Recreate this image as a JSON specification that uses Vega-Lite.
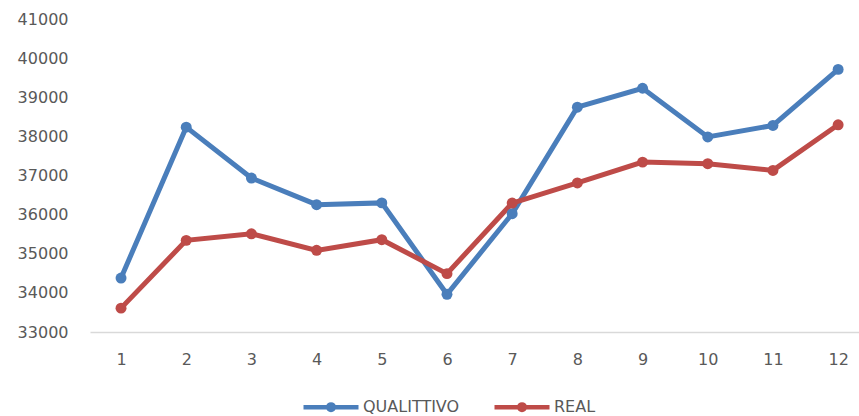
{
  "$schema": "https://vega.github.io/schema/vega-lite/v6.json",
  "width": 769,
  "height": 313,
  "autosize": "none",
  "padding": {"left": 90, "top": 19, "right": 0, "bottom": 84},
  "background": "white",
  "config": {"view": {"stroke": null}, "font": "DejaVu Sans"},
  "data": {"values": [
    {"mese": 1, "serie": "QUALITTIVO", "valore": 34380},
    {"mese": 2, "serie": "QUALITTIVO", "valore": 38236},
    {"mese": 3, "serie": "QUALITTIVO", "valore": 36934},
    {"mese": 4, "serie": "QUALITTIVO", "valore": 36254},
    {"mese": 5, "serie": "QUALITTIVO", "valore": 36300},
    {"mese": 6, "serie": "QUALITTIVO", "valore": 33963},
    {"mese": 7, "serie": "QUALITTIVO", "valore": 36024},
    {"mese": 8, "serie": "QUALITTIVO", "valore": 38747},
    {"mese": 9, "serie": "QUALITTIVO", "valore": 39230},
    {"mese": 10, "serie": "QUALITTIVO", "valore": 37985},
    {"mese": 11, "serie": "QUALITTIVO", "valore": 38280},
    {"mese": 12, "serie": "QUALITTIVO", "valore": 39712},
    {"mese": 1, "serie": "REAL", "valore": 33610},
    {"mese": 2, "serie": "REAL", "valore": 35342},
    {"mese": 3, "serie": "REAL", "valore": 35510},
    {"mese": 4, "serie": "REAL", "valore": 35087},
    {"mese": 5, "serie": "REAL", "valore": 35360},
    {"mese": 6, "serie": "REAL", "valore": 34492},
    {"mese": 7, "serie": "REAL", "valore": 36295},
    {"mese": 8, "serie": "REAL", "valore": 36810},
    {"mese": 9, "serie": "REAL", "valore": 37342},
    {"mese": 10, "serie": "REAL", "valore": 37301},
    {"mese": 11, "serie": "REAL", "valore": 37130},
    {"mese": 12, "serie": "REAL", "valore": 38297}
  ]},
  "mark": {"type": "line", "strokeWidth": 5, "point": {"filled": true, "size": 120, "opacity": 1}},
  "encoding": {
    "x": {
      "field": "mese", "type": "quantitative",
      "scale": {"domain": [0.524, 12.32], "nice": false, "zero": false},
      "axis": {
        "title": null, "values": [1,2,3,4,5,6,7,8,9,10,11,12], "format": "d",
        "grid": false, "ticks": false, "domainColor": "#d9d9d9", "domainWidth": 1.5,
        "labelFontSize": 16, "labelColor": "#595959", "labelPadding": 19, "labelFont": "DejaVu Sans"
      }
    },
    "y": {
      "field": "valore", "type": "quantitative",
      "scale": {"domain": [33000, 41000], "nice": false, "zero": false},
      "axis": {
        "title": null, "values": [33000,34000,35000,36000,37000,38000,39000,40000,41000], "format": "d",
        "grid": false, "ticks": false, "domain": false,
        "labelFontSize": 16, "labelColor": "#595959", "labelPadding": 22, "labelFont": "DejaVu Sans"
      }
    },
    "color": {
      "field": "serie", "type": "nominal",
      "scale": {"domain": ["QUALITTIVO", "REAL"], "range": ["#4A7EBB", "#BE4B48"]},
      "legend": {
        "title": null, "orient": "none", "direction": "horizontal",
        "legendX": 211, "legendY": 358,
        "symbolType": "M-1,0L1,0M-0.1,0a0.1,0.1 0 1,0 0.2,0a0.1,0.1 0 1,0 -0.2,0",
        "symbolSize": 3025, "symbolStrokeWidth": 4.5,
        "labelFontSize": 16, "labelColor": "#595959", "labelOffset": 2, "columnPadding": 25,
        "labelFont": "DejaVu Sans",
        "encode": {"symbols": {"update": {"fill": {"scale": "color", "field": "value"}, "fillOpacity": {"value": 1}}}}
      }
    }
  }
}
